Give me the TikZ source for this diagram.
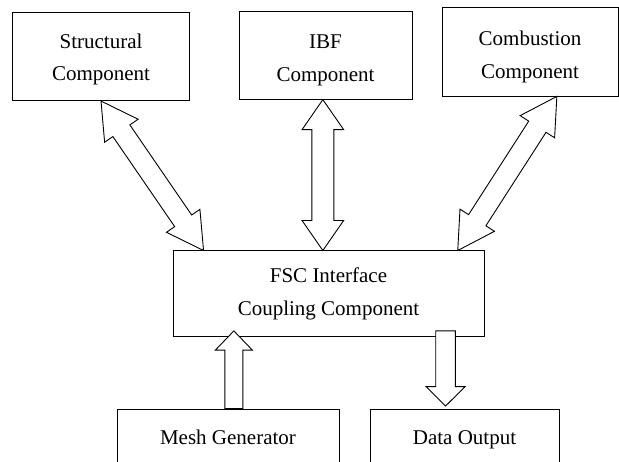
\documentclass[tikz,border=0pt]{standalone}
\usepackage{fontspec}
\setmainfont{Liberation Serif}
\usetikzlibrary{calc}

\tikzset{
  comp/.style={draw, line width=0.9pt, align=center, inner sep=0pt, font=\fontsize{21}{32.5}\selectfont},
  low/.style={text height=#1, text depth=4.5pt},
  fat/.style={draw, line width=0.9pt, fill=white, line join=miter}
}
% block arrow with two heads: from, to, head length, head half width, shaft half width
\newcommand{\twoway}[5]{%
  \draw[fat] (#1) -- ($(#1)!#3!(#2)!#4!90:(#2)$) -- ($(#1)!#3!(#2)!#5!90:(#2)$)
    -- ($(#2)!#3!(#1)!#5!-90:(#1)$) -- ($(#2)!#3!(#1)!#4!-90:(#1)$) -- (#2)
    -- ($(#2)!#3!(#1)!#4!90:(#1)$) -- ($(#2)!#3!(#1)!#5!90:(#1)$)
    -- ($(#1)!#3!(#2)!#5!-90:(#2)$) -- ($(#1)!#3!(#2)!#4!-90:(#2)$) -- cycle;}
% block arrow with one head at the second point
\newcommand{\oneway}[5]{%
  \draw[fat] ($(#1)!#5!90:(#2)$) -- ($(#2)!#3!(#1)!#5!-90:(#1)$) -- ($(#2)!#3!(#1)!#4!-90:(#1)$) -- (#2)
    -- ($(#2)!#3!(#1)!#4!90:(#1)$) -- ($(#2)!#3!(#1)!#5!90:(#1)$) -- ($(#1)!#5!-90:(#2)$) -- cycle;}

\begin{document}
\begin{tikzpicture}[x=1pt,y=-1pt]
\useasboundingbox (0,0) rectangle (619,462);
\clip (0,0) rectangle (619,462);
% upper row
\node[comp, low=53pt, minimum width=176.6pt, minimum height=88pt] (struct) at (101,56.6) {Structural\\Component};
\node[comp, low=57pt, minimum width=173pt, minimum height=88pt] (ibf) at (325.5,55.2) {IBF\\Component};
\node[comp, low=58pt, minimum width=176pt, minimum height=89pt] (comb) at (530,51.5) {Combustion\\Component};
% coupling box
\node[comp, minimum width=311pt, minimum height=85.5pt] (fsc) at (328.5,293.7) {FSC Interface\\Coupling Component};
% lower row, cut by the page edge
\node[comp, text height=20pt, text depth=5pt, minimum width=222pt, minimum height=56pt] (mesh) at (228,437) {Mesh Generator};
\node[comp, text height=20pt, text depth=5pt, minimum width=189pt, minimum height=56pt] (data) at (464.5,437) {Data Output};

% arrow ends
\coordinate (sA) at ($(fsc.north west)+(31,0)$);
\coordinate (iA) at ($(fsc.north west)+(150.3,0)$);
\coordinate (iB) at (iA |- ibf.south);
\coordinate (cA) at ($(fsc.north east)+(-26.7,0)$);
\coordinate (cB) at ($(comb.south west)+(115.3,0)$);
\coordinate (mA) at ($(mesh.north west)+(117.3,0)$);
\coordinate (mB) at ($(mA |- fsc.south)+(0,-6)$);
\coordinate (dB) at ($(data.north west)+(76,-2.5)$);
\coordinate (dA) at ($(dB |- fsc.south)+(0,-6)$);

\twoway{struct.south}{sA}{36pt}{20.3pt}{10.3pt}
\twoway{iB}{iA}{30pt}{20.8pt}{11pt}
\twoway{cB}{cA}{36pt}{20.5pt}{10.3pt}
\oneway{mA}{mB}{19.3pt}{18.6pt}{9pt}
\oneway{dA}{dB}{19.4pt}{19.5pt}{9.8pt}
\end{tikzpicture}
\end{document}
